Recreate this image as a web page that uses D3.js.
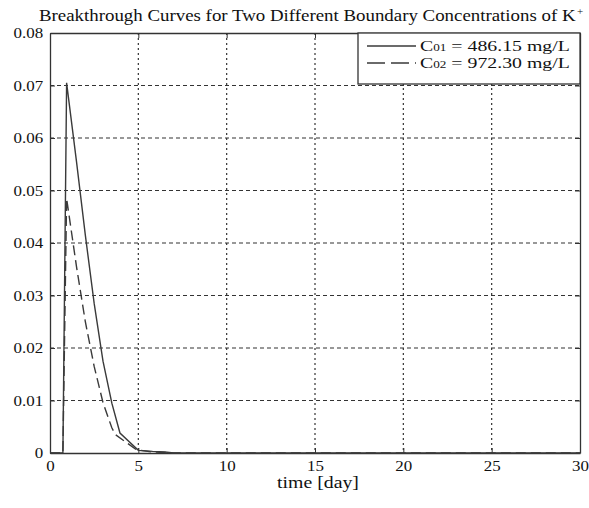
<!DOCTYPE html>
<html><head><meta charset="utf-8">
<script src="https://cdn.jsdelivr.net/npm/d3@7"></script>
<style>body{margin:0;background:#fff}svg{display:block}</style>
</head><body>
<svg id="c" width="589" height="508"></svg>
<script>
// Data
const timeC01 = [0, 0.73, 0.94, 1.5, 2.0, 2.5, 3.0, 3.5, 3.96, 5.0, 5.8, 6.5, 7.0, 30];
const concC01 = [0, 0, 0.0705, 0.0555, 0.0415, 0.0285, 0.0175, 0.0095, 0.0038, 0.0005, 0.0003, 0.0002, 0, 0];
const timeC02 = [0, 0.73, 0.94, 1.5, 2.0, 2.5, 3.0, 3.5, 3.7, 4.9, 5.8, 6.5, 7.0, 30];
const concC02 = [0, 0, 0.0485, 0.0355, 0.025, 0.0165, 0.0096, 0.0048, 0.0035, 0.0006, 0.0002, 0.0001, 0, 0];
const xTicks = [0, 5, 10, 15, 20, 25, 30];
const yTicks = [0, 0.01, 0.02, 0.03, 0.04, 0.05, 0.06, 0.07, 0.08];
const legendLabels = [["C","01"," = 486.15 mg/L"],["C","02"," = 972.30 mg/L"]];

const svg = d3.select("#c");
const L = 50, R = 580, T = 33, B = 453;
const x = d3.scaleLinear().domain([0, 30]).range([L, R]);
const y = d3.scaleLinear().domain([0, 0.08]).range([B, T]);
const ink = "#333";
const serif = "Liberation Serif, Times New Roman, serif";

// stretch a text horizontally so that it spans [x0, x0+w]
function fit(sel, x0, y0, w) {
  sel.attr("x", 0).attr("y", 0);
  const nat = sel.node().getComputedTextLength();
  sel.attr("transform", `translate(${x0},${y0}) scale(${w / nat},1)`);
}

// grid
const g = svg.append("g");
g.selectAll(".gx").data(xTicks.slice(1, -1)).enter().append("line")
  .attr("x1", d => x(d)).attr("x2", d => x(d)).attr("y1", T).attr("y2", B)
  .attr("stroke", ink).attr("stroke-width", 1.2).attr("stroke-dasharray", "2,3");
g.selectAll(".gy").data(yTicks.slice(1, -1)).enter().append("line")
  .attr("y1", d => y(d)).attr("y2", d => y(d)).attr("x1", L).attr("x2", R)
  .attr("stroke", ink).attr("stroke-width", 1.2).attr("stroke-dasharray", "4,3");

// axes
const fmtY = d => d === 0 ? "0" : d3.format(".2f")(d);
const xa = svg.append("g").attr("transform", `translate(0,${B})`)
  .call(d3.axisBottom(x).tickValues(xTicks).tickSizeInner(-5).tickSizeOuter(0).tickPadding(7));
const ya = svg.append("g").attr("transform", `translate(${L},0)`)
  .call(d3.axisLeft(y).tickValues(yTicks).tickFormat(fmtY).tickSizeInner(-5).tickSizeOuter(0).tickPadding(6));
const xt = svg.append("g").attr("transform", `translate(0,${T})`)
  .call(d3.axisTop(x).tickValues(xTicks).tickSizeInner(-5).tickSizeOuter(0).tickFormat(""));
const yr = svg.append("g").attr("transform", `translate(${R},0)`)
  .call(d3.axisRight(y).tickValues(yTicks).tickSizeInner(-5).tickSizeOuter(0).tickFormat(""));
[xa, ya, xt, yr].forEach(a => {
  a.select(".domain").attr("stroke", ink).attr("stroke-width", 1.3);
  a.selectAll(".tick line").attr("stroke", ink);
  a.selectAll("text").attr("fill", "#111").style("font-family", serif).style("font-size", "15px")
    .attr("transform", "scale(1.13,1)");
});

// lines
const line = d3.line().x(d => x(d[0])).y(d => y(d[1]));
svg.append("path").datum(timeC01.map((t, i) => [t, concC01[i]]))
  .attr("d", line).attr("fill", "none").attr("stroke", "#3a3a3a").attr("stroke-width", 1.4);
svg.append("path").datum(timeC02.map((t, i) => [t, concC02[i]]))
  .attr("d", line).attr("fill", "none").attr("stroke", "#3a3a3a").attr("stroke-width", 1.4)
  .attr("stroke-dasharray", "10,5");

// legend
const lg = svg.append("g");
lg.append("rect").attr("x", 358).attr("y", T).attr("width", R - 358).attr("height", 84 - T)
  .attr("fill", "#fff").attr("stroke", ink).attr("stroke-width", 1.3);
legendLabels.forEach((lab, i) => {
  const yy = 46 + i * 17;
  lg.append("line").attr("x1", 367).attr("x2", 416).attr("y1", yy).attr("y2", yy)
    .attr("stroke", "#3a3a3a").attr("stroke-width", 1.3)
    .attr("stroke-dasharray", i === 0 ? null : "18,6");
  const t = lg.append("text")
    .style("font-family", serif).style("font-size", "15px").attr("fill", "#111");
  t.append("tspan").text(lab[0]);
  t.append("tspan").text(lab[1]).style("font-size", "10px");
  t.append("tspan").text(lab[2]);
  fit(t, 420, yy + 5, 150);
});

// title
const title = svg.append("text")
  .style("font-family", serif).style("font-size", "16px").attr("fill", "#111")
  .text("Breakthrough Curves for Two Different Boundary Concentrations of K");
fit(title, 39, 21, 537);
svg.append("text").attr("x", 577).attr("y", 15)
  .style("font-family", serif).style("font-size", "11px").attr("fill", "#111").text("+");

// x label
const xl = svg.append("text")
  .style("font-family", serif).style("font-size", "17px").attr("fill", "#111")
  .text("time [day]");
fit(xl, 277, 488, 82);
</script>
</body></html>
